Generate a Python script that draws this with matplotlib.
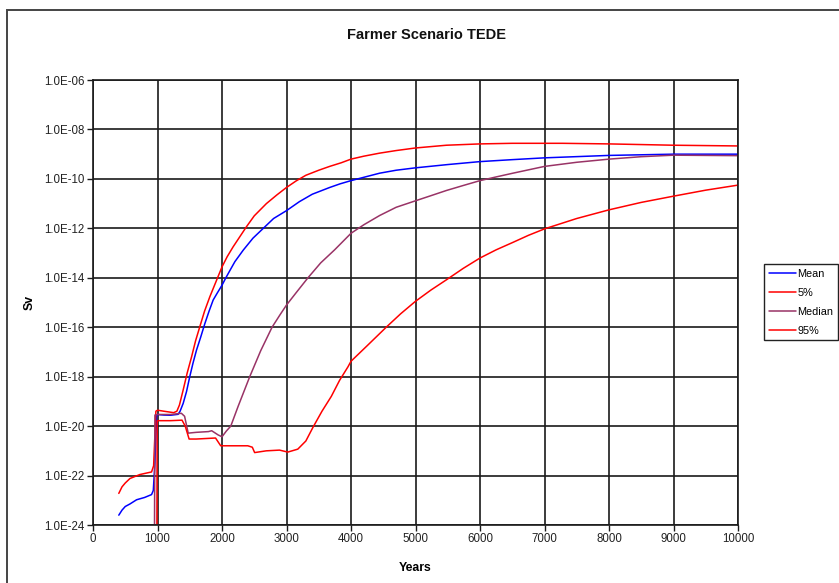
import math
import matplotlib
matplotlib.use("Agg")
import matplotlib.pyplot as plt
from matplotlib.patches import Rectangle
from matplotlib.ticker import FixedLocator, FuncFormatter, NullLocator

plt.rcParams["font.family"] = ["Liberation Sans", "DejaVu Sans"]

# ---- data: dose (Sv) versus time (years) ----
mean_years = [400, 450, 500, 573, 676, 800, 908, 935, 960, 985, 1000, 1100, 1200,
              1320, 1350, 1398, 1450, 1500, 1550, 1604, 1670, 1734, 1800, 1863,
              1930, 2000, 2060, 2124, 2200, 2330, 2480, 2640, 2800, 3000, 3200,
              3400, 3670, 3830, 4000, 4444, 4700, 5000, 5500, 6000, 6500, 7000,
              8000, 9000, 10000]
mean_sv = [2.5e-24, 4.0e-24, 5.6e-24, 7.1e-24, 1.05e-23, 1.3e-23, 1.7e-23, 2.5e-23,
           3.2e-22, 2.5e-20, 2.95e-20, 2.8e-20, 2.75e-20, 3.0e-20, 4.0e-20, 8.3e-20,
           2.5e-19, 1.0e-18, 3.5e-18, 1.17e-17, 4.0e-17, 1.4e-16, 4.5e-16, 1.26e-15,
           2.5e-15, 5.0e-15, 1.0e-14, 2.0e-14, 4.5e-14, 1.32e-13, 4.0e-13, 1.0e-12,
           2.5e-12, 5.2e-12, 1.2e-11, 2.4e-11, 4.5e-11, 6.3e-11, 8.5e-11, 1.7e-10,
           2.24e-10, 2.8e-10, 3.8e-10, 5.0e-10, 6.0e-10, 7.1e-10, 8.9e-10, 1.0e-9,
           1.0e-9]

p5_years = [400, 450, 500, 573, 727, 908, 940, 975, 1000, 1100, 1250, 1300, 1340,
            1398, 1460, 1528, 1590, 1656, 1730, 1811, 1900, 2000, 2080, 2172, 2378,
            2500, 2688, 2850, 3000, 3150, 3300, 3500, 3669, 3850, 4000, 4200, 4444,
            4700, 5000, 5480, 6000, 6500, 7276, 8000, 9000, 10000]
p5_sv = [1.9e-23, 3.5e-23, 5.0e-23, 7.6e-23, 1.1e-22, 1.4e-22, 2.5e-22, 4.0e-20,
         4.4e-20, 4.0e-20, 3.5e-20, 4.0e-20, 7.1e-20, 2.9e-19, 1.4e-18, 6.3e-18,
         2.8e-17, 1.05e-16, 4.5e-16, 1.7e-15, 6.3e-15, 2.75e-14, 7.1e-14, 1.78e-13,
         1.15e-12, 3.2e-12, 1.0e-11, 2.24e-11, 4.5e-11, 8.3e-11, 1.4e-10, 2.24e-10,
         3.2e-10, 4.5e-10, 6.3e-10, 8.3e-10, 1.1e-9, 1.4e-9, 1.78e-9, 2.3e-9, 2.6e-9,
         2.75e-9, 2.75e-9, 2.6e-9, 2.3e-9, 2.15e-9]

median_years = [945, 960, 1000, 1200, 1370, 1420, 1476, 1600, 1790, 1840, 1940, 2000,
                2067, 2136, 2250, 2430, 2600, 2776, 2900, 3000, 3150, 3333, 3530,
                3746, 4000, 4200, 4444, 4700, 5000, 5250, 5480, 5750, 6000, 6250,
                6510, 7000, 7500, 8000, 8500, 9000, 10000]
median_sv = [1e-30, 2.8e-20, 2.95e-20, 2.95e-20, 3.3e-20, 2.5e-20, 5.2e-21, 5.6e-21,
             6.0e-21, 6.5e-21, 4.4e-21, 3.7e-21, 6.3e-21, 1.0e-20, 6.3e-20, 1.0e-18,
             1.12e-17, 1.0e-16, 3.2e-16, 7.9e-16, 2.5e-15, 1.0e-14, 4.0e-14,
             1.35e-13, 6.3e-13, 1.4e-12, 3.3e-12, 7.1e-12, 1.3e-11, 2.14e-11,
             3.4e-11, 5.5e-11, 8.5e-11, 1.2e-10, 1.7e-10, 3.2e-10, 4.7e-10, 6.3e-10,
             7.9e-10, 9.1e-10, 8.7e-10]

p95_years = [985, 995, 1000, 1200, 1380, 1430, 1490, 1600, 1900, 1980, 2400, 2470,
             2506, 2686, 2892, 3020, 3175, 3300, 3410, 3550, 3695, 3823, 3953, 4000,
             4250, 4546, 4770, 5000, 5240, 5480, 5740, 6000, 6250, 6510, 6750, 7000,
             7500, 8000, 8500, 9000, 9500, 10000]
p95_sv = [1e-30, 1.6e-20, 1.66e-20, 1.66e-20, 1.74e-20, 1.0e-20, 3.0e-21, 3.0e-21,
          3.3e-21, 1.6e-21, 1.6e-21, 1.4e-21, 8.5e-22, 1.0e-21, 1.07e-21, 8.9e-22,
          1.17e-21, 2.5e-21, 8.9e-21, 4.0e-20, 1.6e-19, 7.1e-19, 2.5e-18, 4.2e-18,
          1.78e-17, 1.0e-16, 3.5e-16, 1.12e-15, 3.2e-15, 8.3e-15, 2.4e-14, 6.3e-14,
          1.35e-13, 2.7e-13, 5.2e-13, 9.5e-13, 2.5e-12, 5.6e-12, 1.12e-11, 2.0e-11,
          3.5e-11, 5.6e-11]

series_labels = ["Mean", "5%", "Median", "95%"]
x_ticks = [0, 1000, 2000, 3000, 4000, 5000, 6000, 7000, 8000, 9000, 10000]
y_ticks = [1e-24, 1e-22, 1e-20, 1e-18, 1e-16, 1e-14, 1e-12, 1e-10, 1e-8, 1e-6]

W, H = 839, 583
fig = plt.figure(figsize=(W / 100, H / 100), dpi=100)

# outer chart-area border
fig.patches.append(Rectangle((7 / W, -0.2), 2.0, 1 - 10 / H + 0.2,
                             transform=fig.transFigure, fill=False,
                             edgecolor="#444444", linewidth=1.4))

ax = fig.add_axes([93 / W, 1 - 525 / H, (738 - 93) / W, (525 - 80) / H])
ax.set_yscale("log")

colors = ["#0000FF", "#FF0000", "#993366", "#FF0000"]
data = [(mean_years, mean_sv), (p5_years, p5_sv),
        (median_years, median_sv), (p95_years, p95_sv)]
for (xs, ys), c, lab in zip(data, colors, series_labels):
    ax.plot(xs, ys, color=c, lw=1.1, label=lab,
            solid_joinstyle="round", solid_capstyle="round")

ax.set_xlim(0, 10000)
ax.set_ylim(1e-24, 1e-6)
ax.xaxis.set_major_locator(FixedLocator(x_ticks))
ax.yaxis.set_major_locator(FixedLocator(y_ticks))
ax.yaxis.set_minor_locator(NullLocator())
ax.yaxis.set_major_formatter(FuncFormatter(
    lambda v, p: "1.0E-%02d" % round(-math.log10(v))))
ax.xaxis.set_major_formatter(FuncFormatter(lambda v, p: "%d" % v))

ax.grid(True, which="major", color="#1a1a1a", lw=1.2)
ax.set_axisbelow(True)
for s in ax.spines.values():
    s.set_color("#1a1a1a")
    s.set_linewidth(1.2)
ax.tick_params(axis="both", direction="out", length=4, width=1.0,
               color="#1a1a1a", labelsize=8.3, labelcolor="#222222", pad=2)

ax.set_xlabel("Years", fontsize=8.8, fontweight="bold", labelpad=12)
ax.set_ylabel("Sv", fontsize=8.8, fontweight="bold", labelpad=6)
fig.text(426 / W, 1 - 35 / H, "Farmer Scenario TEDE", ha="center", va="center",
         fontsize=10.5, fontweight="bold", color="#111111")

leg = fig.legend(loc="upper left", bbox_to_anchor=(764 / W, 1 - 264 / H),
                 fontsize=7.8, handlelength=2.5, handletextpad=0.15,
                 labelspacing=0.82, borderpad=0.45, borderaxespad=0,
                 fancybox=False, framealpha=1, edgecolor="#222222")
leg.get_frame().set_linewidth(1.0)

fig.savefig("out.png", dpi=100)
